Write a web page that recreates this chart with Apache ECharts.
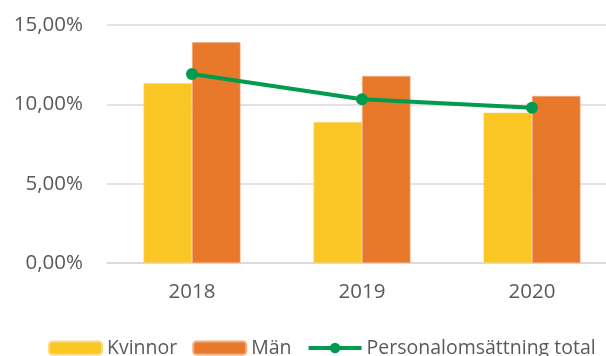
<!DOCTYPE html>
<html>
<head>
<meta charset="utf-8">
<script src="https://cdn.jsdelivr.net/npm/echarts@6/dist/echarts.min.js"></script>
<style>
  html, body { margin: 0; padding: 0; background: #fff; overflow: hidden; }
  /* the canvas is a little wider than the window so the plot runs off the right edge */
  #chart { width: 617px; height: 356px; }
</style>
</head>
<body>
<div id="chart"></div>
<script>
// Personalomsättning per år (procent)
const years = ['2018', '2019', '2020'];
const kvinnor = [11.33, 8.89, 9.48];
const man = [13.91, 11.79, 10.53];
const total = [11.91, 10.32, 9.79];
const yTicks = [0, 5, 10, 15];

const FONT = 'Open Sans';
const GREEN = '#009b4e';
const fmt = v => v.toFixed(2).replace('.', ',') + '%';

const chart = echarts.init(document.getElementById('chart'), null, { renderer: 'canvas' });

chart.setOption({
  animation: false,
  backgroundColor: '#ffffff',
  textStyle: { fontFamily: FONT },
  legend: {
    left: 43,
    top: 333,
    width: 1000,
    itemWidth: 53,
    itemHeight: 13,
    itemGap: 15,
    textStyle: { fontFamily: FONT, fontSize: 19.5, color: '#595959' },
    data: [
      'Kvinnor',
      'Män',
      { name: 'Personalomsättning total', lineStyle: { width: 4, color: GREEN } }
    ]
  },
  grid: { left: 107, top: 25, width: 510, height: 238 },
  xAxis: {
    type: 'category',
    data: years,
    axisLine: { show: true, lineStyle: { color: '#d9d9d9', width: 1.5 } },
    axisTick: { show: false },
    axisLabel: { fontFamily: FONT, fontSize: 20.5, color: '#595959', margin: 19 }
  },
  yAxis: {
    type: 'value',
    min: yTicks[0],
    max: yTicks[yTicks.length - 1],
    interval: yTicks[1] - yTicks[0],
    axisLine: { show: false },
    axisTick: { show: false },
    splitLine: { show: true, lineStyle: { color: '#d9d9d9', width: 1.5 } },
    axisLabel: { fontFamily: FONT, fontSize: 20.5, color: '#595959', margin: 24, formatter: fmt }
  },
  series: [
    {
      name: 'Kvinnor',
      type: 'bar',
      data: kvinnor,
      barGap: '0%',
      barCategoryGap: '43%',
      itemStyle: { color: '#f9c623', borderColor: '#fbd98a', borderWidth: 0.6 },
      z: 2
    },
    {
      name: 'Män',
      type: 'bar',
      data: man,
      barGap: '0%',
      barCategoryGap: '43%',
      itemStyle: { color: '#e8792a', borderColor: '#f2ae84', borderWidth: 0.6 },
      z: 2
    },
    {
      name: 'Personalomsättning total',
      type: 'line',
      data: total,
      symbol: 'circle',
      symbolSize: 12,
      lineStyle: { color: GREEN, width: 4 },
      itemStyle: { color: GREEN },
      z: 5
    }
  ]
});
</script>
</body>
</html>
